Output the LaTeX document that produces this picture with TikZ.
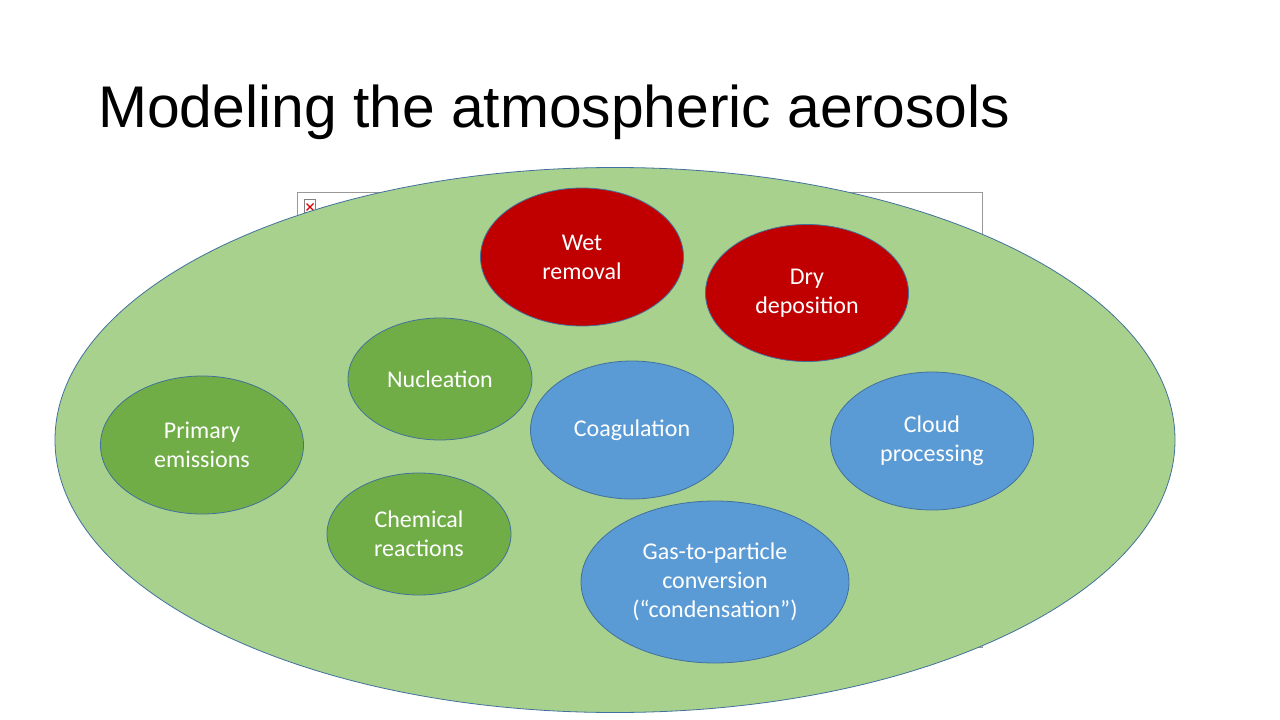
\documentclass[tikz,border=0pt]{standalone}
\usepackage{fontspec}
\setmainfont{Carlito}
\newfontfamily\titlefont{Liberation Sans}
\usetikzlibrary{shapes.geometric}
\definecolor{bigfill}{HTML}{A9D18E}
\definecolor{edgeblue}{HTML}{41719C}
\definecolor{redfill}{HTML}{C00000}
\definecolor{greenfill}{HTML}{70AD47}
\definecolor{bluefill}{HTML}{5B9BD5}
\tikzset{
  blob/.style={ellipse, draw=edgeblue, line width=0.8pt, inner sep=0pt, text=white,
    align=center, font=\fontsize{24}{29}\selectfont},
  redblob/.style={blob, fill=redfill},
  greenblob/.style={blob, fill=greenfill},
  blueblob/.style={blob, fill=bluefill},
}
\begin{document}
\begin{tikzpicture}[x=1pt,y=-1pt]
\useasboundingbox[fill=white] (0,0) rectangle (1280,720);
% title
\node[anchor=base west, inner sep=0pt, font=\titlefont\fontsize{58.8}{66}\selectfont] (title) at (98,127) {Modeling the atmospheric aerosols};
% broken picture placeholder
\draw[draw=gray!80, fill=white, line width=0.8pt] (297,192) rectangle (982,647);
\node[draw=gray, fill=white, minimum width=11pt, minimum height=13pt, inner sep=0pt, line width=0.6pt] (icon) at (310,206) {};
\draw[red!85!black, line width=1.2pt] (306.5,203.5) -- (313.5,210.5) (313.5,203.5) -- (306.5,210.5);
% big ellipse
\node[ellipse, draw=edgeblue, fill=bigfill, line width=0.8pt, minimum width=1120pt, minimum height=545pt, inner sep=0pt] (big) at (615,440) {};
% small ellipses
\node[redblob, minimum width=203pt, minimum height=138pt] (wet) at (582,257) {Wet\\removal};
\node[redblob, minimum width=203pt, minimum height=137pt] (dry) at (807,293) {Dry\\deposition};
\node[greenblob, minimum width=184pt, minimum height=122pt] (nuc) at (440,379) {Nucleation};
\node[greenblob, minimum width=203pt, minimum height=138pt] (prim) at (202,445) {Primary\\emissions};
\node[blueblob, minimum width=203pt, minimum height=138pt] (coag) at (632,430) {Coagulation};
\node[blueblob, minimum width=203pt, minimum height=138pt] (cloud) at (932,441) {Cloud\\processing};
\node[greenblob, minimum width=184pt, minimum height=122pt] (chem) at (419,534) {Chemical\\reactions};
\node[blueblob, minimum width=268pt, minimum height=162pt] (gas) at (715,582) {Gas-to-particle\\conversion\\(“condensation”)};
\end{tikzpicture}
\end{document}
